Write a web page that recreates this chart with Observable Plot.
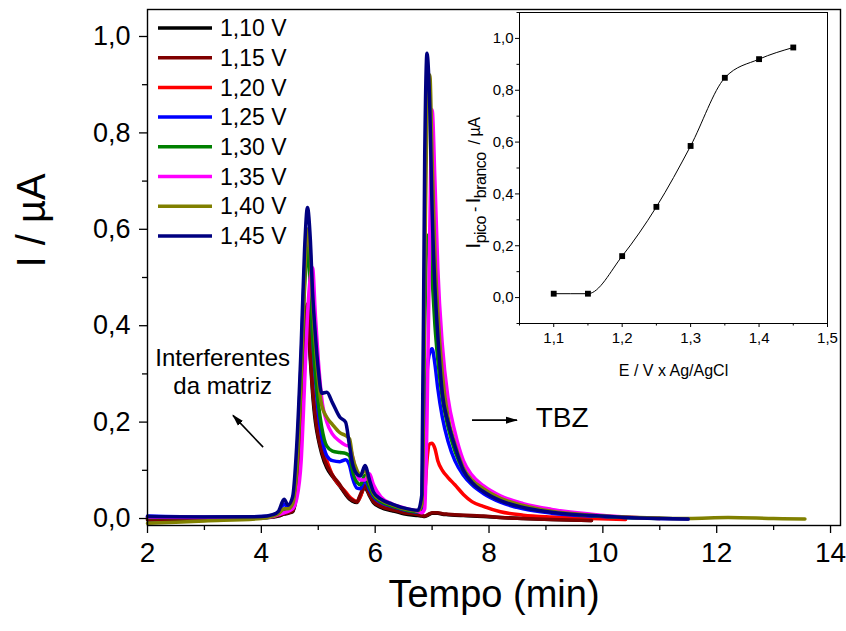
<!DOCTYPE html>
<html><head><meta charset="utf-8">
<script src="https://cdn.jsdelivr.net/npm/d3@7"></script>
<script src="https://cdn.jsdelivr.net/npm/@observablehq/plot@0.6"></script>
<style>
html,body{margin:0;padding:0;background:#fff;}
#chart{position:relative;width:846px;height:631px;overflow:hidden;}
#chart svg{position:absolute;left:0;top:0;}
</style></head><body><div id="chart"></div>
<script>
// ---------- data ----------
const tempo = [2.0,3.0,4.0,4.2,4.3,4.4,4.47,4.55,4.62,4.7,4.76,4.81,4.86,4.9,4.95,5.0,5.06,5.15,5.25,5.38,5.48,5.55,5.6,5.68,5.74,5.82,5.9,5.97,6.1,6.3,6.5,6.75,6.82,6.87,6.91,6.96,7.0,7.05,7.1,7.18,7.28,7.4,7.55,7.7,7.9,8.2,8.6,9.1,9.8,10.4,11.0,11.5,12.2,13.0,13.55];

const i110 = [-0.003,-0.001,0.001,0.003,0.005,0.009,0.011,0.014,0.055,0.21,0.37,0.43,0.33,0.26,0.2,0.165,0.135,0.105,0.087,0.067,0.05,0.04,0.036,0.033,0.047,0.064,0.047,0.033,0.023,0.016,0.01,0.006,0.005,0.004,0.006,0.009,0.011,0.011,0.011,0.009,0.008,0.007,0.006,0.005,0.004,0.002,0.0,-0.002,-0.004,null,null,null,null,null,null];
const i115 = [-0.002,0.0,0.002,0.004,0.006,0.01,0.012,0.015,0.06,0.22,0.38,0.445,0.34,0.27,0.21,0.17,0.14,0.11,0.09,0.07,0.052,0.042,0.038,0.035,0.05,0.068,0.05,0.035,0.025,0.018,0.012,0.008,0.006,0.005,0.007,0.01,0.012,0.012,0.012,0.01,0.009,0.008,0.007,0.006,0.005,0.002,0.0,-0.002,-0.004,null,null,null,null,null,null];
const i120 = [0.002,0.001,0.002,0.005,0.01,0.015,0.015,0.025,0.08,0.25,0.4,0.44,0.36,0.28,0.22,0.18,0.15,0.12,0.09,0.068,0.055,0.045,0.04,0.035,0.045,0.07,0.05,0.038,0.028,0.02,0.015,0.01,0.012,0.05,0.12,0.155,0.156,0.145,0.12,0.1,0.085,0.07,0.05,0.035,0.025,0.014,0.007,0.003,0.0,-0.002,null,null,null,null,null];
const i125 = [0.005,0.003,0.004,0.007,0.012,0.03,0.022,0.035,0.12,0.33,0.52,0.6,0.5,0.38,0.29,0.22,0.17,0.13,0.12,0.118,0.122,0.11,0.085,0.063,0.062,0.08,0.06,0.045,0.033,0.025,0.018,0.013,0.025,0.15,0.3,0.345,0.352,0.32,0.27,0.21,0.16,0.12,0.09,0.07,0.052,0.034,0.02,0.011,0.005,0.002,0.0,-0.001,null,null,null];
const i130 = [0.002,0.002,0.003,0.006,0.01,0.018,0.018,0.03,0.1,0.3,0.48,0.56,0.48,0.38,0.3,0.24,0.19,0.15,0.14,0.137,0.135,0.13,0.1,0.075,0.07,0.09,0.065,0.048,0.035,0.026,0.019,0.014,0.03,0.4,0.58,0.59,0.5,0.4,0.33,0.25,0.19,0.14,0.1,0.075,0.058,0.039,0.024,0.014,0.006,0.002,0.0,null,null,null,null];
const i135 = [0.003,0.002,0.002,0.004,0.008,0.012,0.015,0.02,0.04,0.12,0.28,0.42,0.5,0.52,0.42,0.33,0.25,0.2,0.175,0.16,0.152,0.15,0.13,0.09,0.08,0.08,0.093,0.07,0.045,0.03,0.022,0.015,0.012,0.02,0.2,0.6,0.848,0.7,0.52,0.36,0.25,0.18,0.12,0.09,0.068,0.047,0.031,0.019,0.009,0.003,0.0,null,null,null,null];
const i140 = [-0.01,-0.005,0.0,0.005,0.01,0.02,0.02,0.03,0.1,0.3,0.5,0.6,0.55,0.45,0.36,0.29,0.235,0.21,0.195,0.178,0.172,0.165,0.13,0.1,0.09,0.1,0.075,0.052,0.038,0.028,0.02,0.016,0.03,0.5,0.85,0.92,0.75,0.55,0.43,0.3,0.21,0.155,0.105,0.08,0.062,0.042,0.027,0.015,0.007,0.003,0.001,0.0,0.002,0.0,-0.001];
const i145 = [0.004,0.003,0.004,0.008,0.015,0.04,0.028,0.045,0.148,0.36,0.56,0.645,0.58,0.47,0.38,0.31,0.26,0.262,0.24,0.21,0.2,0.15,0.115,0.092,0.088,0.11,0.08,0.055,0.04,0.03,0.022,0.017,0.05,0.75,0.965,0.85,0.64,0.48,0.38,0.26,0.2,0.15,0.1,0.075,0.056,0.037,0.023,0.013,0.006,0.002,0.0,-0.001,null,null,null];

const seriesNames  = ["1,10 V","1,15 V","1,20 V","1,25 V","1,30 V","1,35 V","1,40 V","1,45 V"];
const seriesColors = ["#000000","#800000","#ff0000","#0000ff","#008000","#ff00ff","#808000","#000080"];
const seriesValues = [i110,i115,i120,i125,i130,i135,i140,i145];
const drawOrder = [0,2,1,3,4,5,6,7];

const xMajor = [2,4,6,8,10,12,14];
const xMinor = [3,5,7,9,11,13];
const yMajor = [0,0.2,0.4,0.6,0.8,1.0];
const yMinor = [0.1,0.3,0.5,0.7,0.9];

// inset
const insetE = [1.10,1.15,1.20,1.25,1.30,1.35,1.40,1.45];
const insetI = [0.015,0.015,0.16,0.35,0.585,0.848,0.92,0.965];
const insetXMajor = [1.1,1.2,1.3,1.4,1.5];
const insetXMinor = [1.05,1.15,1.25,1.35,1.45];
const insetYMajor = [0,0.2,0.4,0.6,0.8,1.0];
const insetYMinor = [-0.1,0.1,0.3,0.5,0.7,0.9,1.1];

// annotations (data coordinates)
const notes = [
  {t: 3.32, I: 0.306, text: "Interferentes\nda matriz"},
  {t: 8.82, I: 0.209, text: "TBZ"}
];
const arrows = [
  {t1: 7.71, I1: 0.203, t2: 8.50, I2: 0.203},
  {t1: 4.04, I1: 0.147, t2: 3.51, I2: 0.213}
];

// ---------- build ----------
const comma1 = d => d.toFixed(1).replace(".", ",");
const FONT = "'Liberation Sans', Arial, Helvetica, sans-serif";

function rows(k) {
  const out = [];
  tempo.forEach((t, i) => { const v = seriesValues[k][i]; if (v !== null) out.push({t, I: v}); });
  return out;
}

const lineMarks = drawOrder.map(k => Plot.line(rows(k), {x: "t", y: "I", stroke: seriesColors[k], strokeWidth: 3.5, curve: "monotone-x", strokeLinejoin: "round"}));

const main = Plot.plot({
  width: 846, height: 631,
  marginLeft: 147, marginRight: 6, marginTop: 9, marginBottom: 106,
  x: {domain: [2, 14.175]},
  y: {domain: [-0.0145, 1.056]},
  style: {fontFamily: FONT, background: "white", color: "black"},
  marks: [
    ...lineMarks,
    Plot.frame({stroke: "black", strokeWidth: 1.4}),
    Plot.axisX(xMajor, {tickSize: 8, tickPadding: 9, fontSize: 28, tickFormat: d => String(d), label: null, strokeWidth: 1.3}),
    Plot.axisX(xMinor, {tickSize: 5, tickFormat: () => "", label: null, strokeWidth: 1.3}),
    Plot.axisY(yMajor, {tickSize: 8, tickPadding: 9, fontSize: 27, tickFormat: comma1, label: null, strokeWidth: 1.3}),
    Plot.axisY(yMinor, {tickSize: 5, tickFormat: () => "", label: null, strokeWidth: 1.3}),
    Plot.text(["Tempo (min)"], {frameAnchor: "bottom", dy: 81, fontSize: 38}),
    Plot.text(["I / µA"], {frameAnchor: "left", dx: -115, rotate: -90, fontSize: 40}),
    Plot.text(notes.slice(0,1), {x: "t", y: "I", text: "text", fontSize: 24, textAnchor: "middle", lineHeight: 1.17}),
    Plot.text(notes.slice(1), {x: "t", y: "I", text: "text", fontSize: 28, textAnchor: "start"})
  ]
});
document.getElementById("chart").appendChild(main);

// arrows with filled heads, positioned through the plot scales
const sx = main.scale("x"), sy = main.scale("y");
const msvg = d3.select(main);
const defs = msvg.append("defs");
defs.append("marker").attr("id", "ahead").attr("viewBox", "0 -5 12 10")
  .attr("refX", 11).attr("refY", 0).attr("markerUnits", "userSpaceOnUse")
  .attr("markerWidth", 12).attr("markerHeight", 10).attr("orient", "auto")
  .append("path").attr("d", "M0,-3.5L12,0L0,3.5Z").attr("fill", "black");
arrows.forEach(a => {
  msvg.append("line")
    .attr("x1", sx.apply(a.t1)).attr("y1", sy.apply(a.I1))
    .attr("x2", sx.apply(a.t2)).attr("y2", sy.apply(a.I2))
    .attr("stroke", "black").attr("stroke-width", 1.6).attr("marker-end", "url(#ahead)");
});

// legend
const lg = msvg.append("g").attr("font-family", FONT).attr("font-size", 23).attr("text-anchor", "start");
seriesNames.forEach((n, i) => {
  const y = 28 + i * 29.7;
  lg.append("line").attr("x1", 158).attr("x2", 212).attr("y1", y).attr("y2", y)
    .attr("stroke", seriesColors[i]).attr("stroke-width", 3.5);
  lg.append("text").attr("x", 220).attr("y", y).attr("dy", "0.36em").attr("fill", "black").text(n);
});

// ---------- inset ----------
const IFONT = "'Liberation Sans Narrow', 'Liberation Sans', Arial, sans-serif";
const insetData = insetE.map((e, i) => ({e, v: insetI[i]}));
const inset = Plot.plot({
  width: 400, height: 390,
  marginLeft: 79, marginRight: 13, marginTop: 12, marginBottom: 67,
  x: {domain: [1.05, 1.5]},
  y: {domain: [-0.1, 1.1]},
  style: {fontFamily: IFONT, background: "transparent", color: "black"},
  marks: [
    Plot.frame({stroke: "black", strokeWidth: 1}),
    Plot.axisX(insetXMajor, {tickSize: 4, tickPadding: 5, fontSize: 15, tickFormat: comma1, label: null}),
    Plot.axisX(insetXMinor, {tickSize: 2.5, tickFormat: () => "", label: null}),
    Plot.axisY(insetYMajor, {tickSize: 4, tickPadding: 2, fontSize: 15, tickFormat: comma1, label: null}),
    Plot.axisY(insetYMinor, {tickSize: 2.5, tickFormat: () => "", label: null}),
    Plot.line(insetData, {x: "e", y: "v", stroke: "black", strokeWidth: 1, curve: "monotone-x"}),
    Plot.dot(insetData, {x: "e", y: "v", symbol: "square", r: 3.3, fill: "black", stroke: "none"}),
    Plot.text(["E / V x Ag/AgCl"], {frameAnchor: "bottom", dy: 52, fontSize: 16, letterSpacing: "-0.6px"})
  ]
});
inset.style.left = "440px";
inset.style.top = "0px";
document.getElementById("chart").appendChild(inset);

// inset y label with subscripts
const isvg = d3.select(inset);
const yl = isvg.append("text").attr("transform", "translate(40,183) rotate(-90)")
  .attr("text-anchor", "middle").attr("font-family", IFONT).attr("font-size", 16).attr("fill", "black")
  .attr("letter-spacing", "-0.5px");
yl.append("tspan").attr("font-size", 20).text("I");
yl.append("tspan").attr("dy", 6).text("pico");
yl.append("tspan").attr("dy", -6).text(" - ");
yl.append("tspan").attr("font-size", 20).text("I");
yl.append("tspan").attr("dy", 6).text("branco");
yl.append("tspan").attr("dy", -6).text("  / µA");
</script>
</body></html>
